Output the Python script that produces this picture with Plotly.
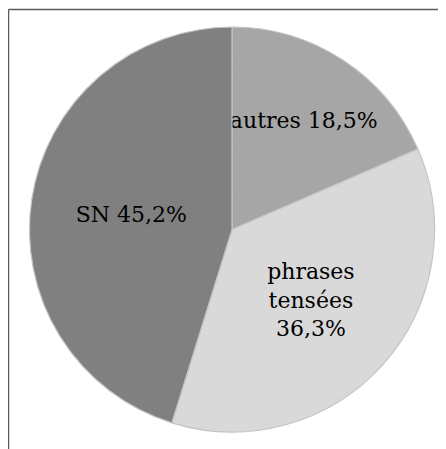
import plotly.graph_objects as go

labels = ["autres", "phrases tensées", "SN"]
values = [18.5, 36.3, 45.2]
text_labels = ["autres 18,5%", "phrases<br>tensées<br>36,3%", "SN 45,2%"]
colors = ["#a6a6a6", "#d9d9d9", "#808080"]

W, H = 446, 449
OFF = 8  # page body margin
cx, cy, r = 232 - OFF, 229.5 - OFF, 202.5

fig = go.Figure(go.Pie(
    labels=labels,
    values=values,
    text=text_labels,
    texttemplate="%{text}",
    textposition="inside",
    insidetextorientation="horizontal",
    sort=False,
    direction="clockwise",
    rotation=0,
    marker=dict(colors=colors, line=dict(color="#c4c4c4", width=1.2)),
    textfont=dict(family="DejaVu Serif", size=22, color="#000000"),
    domain=dict(x=[(cx - r) / W, (cx + r) / W], y=[(H - cy - r) / H, (H - cy + r) / H]),
    showlegend=False,
    hoverinfo="label+percent",
))

bx, by = 8.5 - OFF, 9.5 - OFF
fig.update_layout(
    width=W, height=H,
    margin=dict(l=0, r=0, t=0, b=0),
    paper_bgcolor="white",
    plot_bgcolor="white",
    uniformtext=dict(minsize=22, mode="show"),
    shapes=[
        dict(type="line", xref="paper", yref="paper", x0=bx / W, x1=1.0, y0=1 - by / H, y1=1 - by / H,
             line=dict(color="#5a5a5a", width=1.5)),
        dict(type="line", xref="paper", yref="paper", x0=bx / W, x1=bx / W, y0=0, y1=1 - by / H,
             line=dict(color="#5a5a5a", width=1.5)),
    ],
)

fig.write_html("out.html")
